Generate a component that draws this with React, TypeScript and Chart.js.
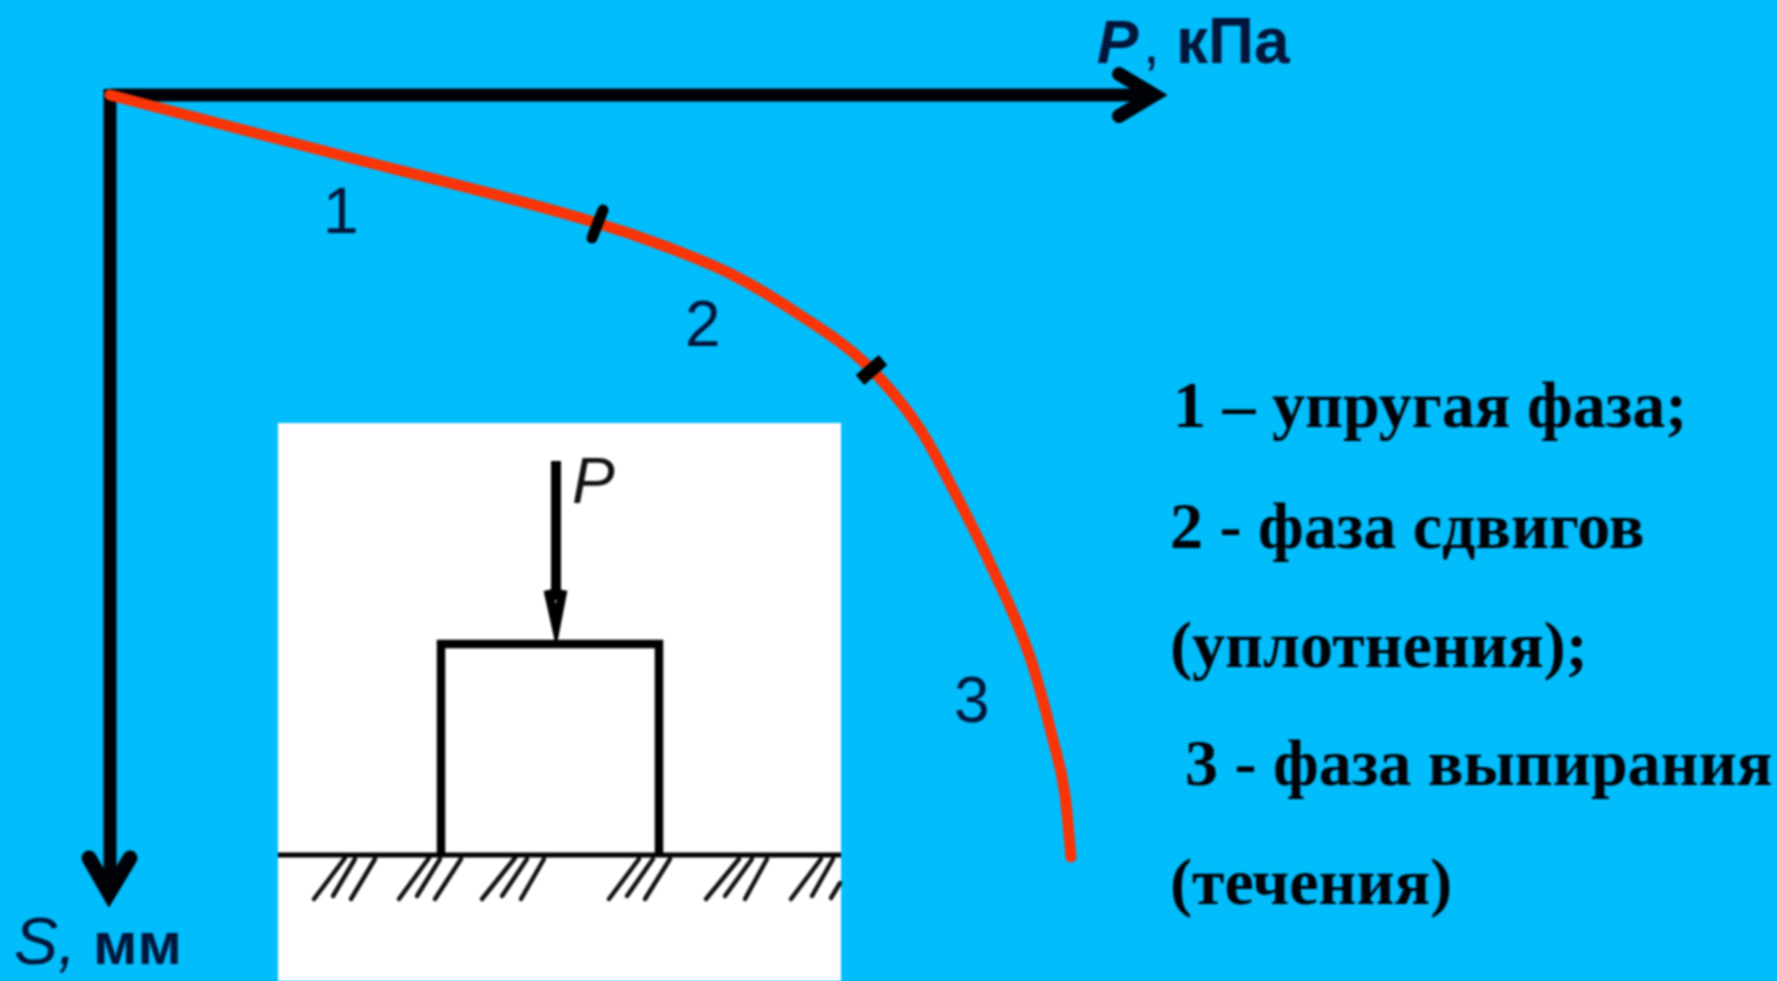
import React, { useEffect, useRef } from "react";
import { Chart, registerables } from "chart.js";

Chart.register(...registerables);

const BG = "#02BDFB";
const RED = "#F93407";
const INK = "#020308";
const NAVY = "#03153A";

// Load-settlement curve
const curveP = [0, 218, 487, 557, 623, 690, 757, 810, 843, 877, 920, 943, 955, 961];
const curveS = [0, 57, 128, 152, 180, 220, 270, 334, 394, 462, 562, 645, 700, 762];

// Phase boundary ticks
const tick1P = [493, 482];
const tick1S = [115, 143];
const tick2P = [750, 773];
const tick2S = [285, 265];

// Axes and their arrow heads
const axisPP = [0, 1045];
const axisPS = [0, 0];
const axisSP = [0, 0];
const axisSS = [-6, 795];
const headPP = [1009, 1044, 1009];
const headPS = [-21, 0, 21];
const headSP = [-21, -1, 20];
const headSS = [763, 798, 763];

// Inset: white panel, loaded plate, ground and hatching
const panelP = [168, 731];
const panelTop = [328, 328];
const panelBottom = 886;
const plateP = [331, 331, 549, 549];
const plateS = [760, 549, 549, 760];
const groundP = [168, 731];
const groundS = [760, 760];
const forceP = [446, 446];
const forceS = [366, 505];
const forceHeadP = [438, 446, 453];
const forceHeadS = [495, 531, 495];
const hatchBottomP = [204, 223, 241, 289, 307, 325, 372, 392, 411, 499, 517, 535, 596, 615, 635, 681, 702, 721];
const hatchTopP = [235, 245, 265, 319, 330, 351, 405, 417, 434, 529, 543, 560, 629, 642, 657, 711, 723, 730];
const hatchBottomS = [804, 801, 804, 804, 801, 804, 804, 801, 804, 804, 801, 804, 804, 801, 804, 804, 801, 803];
const hatchTopS = [763, 764, 764, 763, 764, 764, 763, 764, 764, 764, 764, 764, 764, 764, 764, 764, 764, 788];

// Labels
const axisLabelTexts = ["P", ",", "кПа", "S,", "мм"];
const axisLabelP = [987, 1033, 1066, -96, -17];
const axisLabelS = [-32, -32, -32, 869, 869];
const axisLabelFonts = [
  "italic bold 62px 'Liberation Sans'",
  "60px 'Liberation Sans'",
  "bold 64px 'Liberation Sans'",
  "italic 66px 'Liberation Sans'",
  "bold 60px 'Liberation Sans'",
];
const phaseTexts = ["1", "2", "3"];
const phaseP = [213, 575, 844];
const phaseS = [138, 251, 627];
const forceLabel = "P";
const forceLabelP = [462];
const forceLabelS = [408];
const legendTexts = [
  "1 – упругая фаза;",
  "2 - фаза сдвигов",
  "(уплотнения);",
  "3 - фаза выпирания",
  "(течения)",
];
const legendP = [1063, 1060, 1060, 1075, 1060];
const legendS = [332, 453, 572, 690, 809];

const zip = (xs: number[], ys: number[]) => xs.map((x, i) => ({ x, y: ys[i] }));
const hatchPoints = () => {
  const out: any[] = [];
  hatchBottomP.forEach((p, i) => {
    out.push({ x: p, y: hatchBottomS[i] }, { x: hatchTopP[i], y: hatchTopS[i] }, { x: p, y: null });
  });
  return out;
};

const line = (data: any[], color: string, width: number, order: number, extra: any = {}) => ({
  data,
  borderColor: color,
  borderWidth: width,
  pointRadius: 0,
  tension: 0,
  fill: false,
  order,
  clip: false,
  borderCapStyle: "butt",
  borderJoinStyle: "miter",
  ...extra,
});

const textPlugin = {
  id: "textLabels",
  afterDatasetsDraw(chart: any) {
    const { ctx, scales } = chart;
    const put = (t: string, p: number, s: number, font: string, color: string) => {
      ctx.font = font;
      ctx.fillStyle = color;
      ctx.textBaseline = "alphabetic";
      ctx.textAlign = "left";
      ctx.fillText(t, scales.x.getPixelForValue(p), scales.y.getPixelForValue(s));
    };
    ctx.save();
    axisLabelTexts.forEach((t, i) => put(t, axisLabelP[i], axisLabelS[i], axisLabelFonts[i], NAVY));
    phaseTexts.forEach((t, i) => put(t, phaseP[i], phaseS[i], "64px 'Liberation Sans'", NAVY));
    put(forceLabel, forceLabelP[0], forceLabelS[0], "italic 64px 'Liberation Sans'", "#111");
    legendTexts.forEach((t, i) => put(t, legendP[i], legendS[i], "bold 66px 'Liberation Serif'", INK));
    ctx.restore();
  },
};

export default function App() {
  const ref = useRef<HTMLCanvasElement>(null);
  useEffect(() => {
    document.body.style.margin = "0";
    document.body.style.background = BG;
    const chart = new Chart(ref.current as HTMLCanvasElement, {
      type: "line",
      data: {
        datasets: [
          line(zip(panelP, panelTop), "#FFFFFF", 0, 10, {
            fill: { value: panelBottom },
            backgroundColor: "#FFFFFF",
          }),
          line(zip(groundP, groundS), "#000000", 5, 9),
          line(hatchPoints(), "#111111", 4.5, 9, { spanGaps: false, borderCapStyle: "round" }),
          line(zip(plateP, plateS), "#000000", 8.5, 8),
          line(zip(forceP, forceS), "#000000", 10, 8),
          line(zip(forceHeadP, forceHeadS), "#000000", 9, 8),
          line(zip(axisPP, axisPS), "#000208", 13, 5),
          line(zip(axisSP, axisSS), "#000208", 13, 5),
          line(zip(headPP, headPS), "#000208", 14, 5, { borderCapStyle: "round" }),
          line(zip(headSP, headSS), "#000208", 15, 5, { borderCapStyle: "round" }),
          line(zip(curveP, curveS), RED, 11, 3, { cubicInterpolationMode: "monotone", borderCapStyle: "round" }),
          line(zip(tick1P, tick1S), "#000000", 11, 1, { borderCapStyle: "round" }),
          line(zip(tick2P, tick2S), "#000000", 13, 1),
        ] as any,
      },
      options: {
        responsive: false,
        animation: false,
        layout: { padding: 0 },
        plugins: { legend: { display: false }, tooltip: { enabled: false }, title: { display: false } },
        scales: {
          x: { type: "linear", display: false, min: -110, max: 1667 },
          y: { type: "linear", display: false, reverse: true, min: -95, max: 886 },
        },
      } as any,
      plugins: [textPlugin],
    });
    return () => chart.destroy();
  }, []);
  return (
    <canvas
      ref={ref}
      width={1777}
      height={981}
      style={{ display: "block", width: 1777, height: 981, background: BG, filter: "blur(0.8px)" }}
    />
  );
}
